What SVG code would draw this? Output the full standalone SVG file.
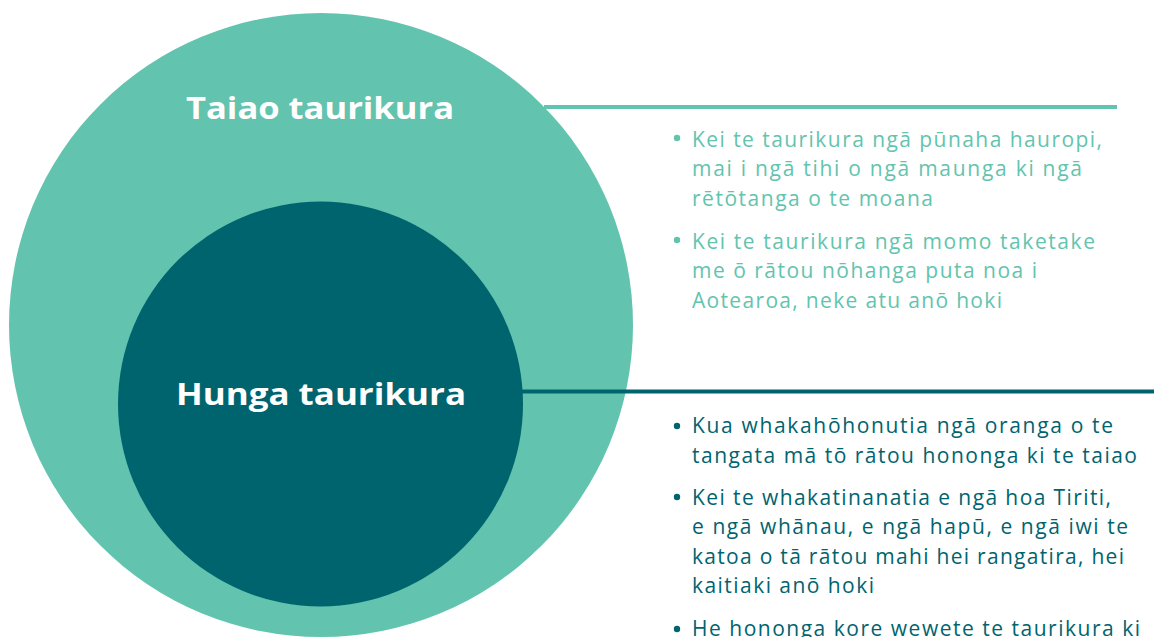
<svg xmlns="http://www.w3.org/2000/svg" width="1154" height="637" viewBox="0 0 1154 637">
  <style>
    .title { font-family: "Open Sans", "Liberation Sans", sans-serif; font-weight: 700; font-size: 31px; fill: #ffffff; text-anchor: middle; }
    .body { font-family: "Open Sans", "Liberation Sans", sans-serif; font-size: 21px; }
    .light { fill: #62C4AE; }
    .dark { fill: #00646F; }
    .lline { stroke: #62C4AE; stroke-width: 4; fill: none; }
    .dline { stroke: #00646F; stroke-width: 4; fill: none; }
  </style>
  <rect width="1154" height="637" fill="#ffffff"/>

  <g id="taiao-taurikura">
    <circle cx="321" cy="325" r="312" fill="#62C4AE"/>
    <text class="title" x="320" y="119" textLength="268" lengthAdjust="spacingAndGlyphs">Taiao taurikura</text>
  </g>

  <g id="hunga-taurikura">
    <circle cx="320.5" cy="404" r="202.5" fill="#00646F"/>
    <text class="title" x="321" y="405" textLength="290" lengthAdjust="spacingAndGlyphs">Hunga taurikura</text>
  </g>

  <g id="connectors">
    <line class="lline" x1="544" y1="107" x2="1117" y2="107"/>
    <line class="dline" x1="522" y1="391.5" x2="1154" y2="391.5"/>
  </g>

  <g id="taiao-notes" class="body light">
    <circle cx="677" cy="138" r="3.2"/>
    <text x="692" y="146.5" textLength="410" lengthAdjust="spacing">Kei te taurikura ngā pūnaha hauropi,</text>
    <text x="692" y="176" textLength="390" lengthAdjust="spacing">mai i ngā tihi o ngā maunga ki ngā</text>
    <text x="692" y="205.5" textLength="241" lengthAdjust="spacing">rētōtanga o te moana</text>
    <circle cx="677" cy="240" r="3.2"/>
    <text x="692" y="248.5" textLength="403" lengthAdjust="spacing">Kei te taurikura ngā momo taketake</text>
    <text x="692" y="278" textLength="345" lengthAdjust="spacing">me ō rātou nōhanga puta noa i</text>
    <text x="692" y="307.5" textLength="310" lengthAdjust="spacing">Aotearoa, neke atu anō hoki</text>
  </g>

  <g id="hunga-notes" class="body dark">
    <circle cx="677" cy="426" r="3.2"/>
    <text x="692" y="433" textLength="421" lengthAdjust="spacing">Kua whakahōhonutia ngā oranga o te</text>
    <text x="692" y="462.5" textLength="445" lengthAdjust="spacing">tangata mā tō rātou hononga ki te taiao</text>
    <circle cx="677" cy="497" r="3.2"/>
    <text x="692" y="504.5" textLength="419" lengthAdjust="spacing">Kei te whakatinanatia e ngā hoa Tiriti,</text>
    <text x="692" y="534" textLength="436" lengthAdjust="spacing">e ngā whānau, e ngā hapū, e ngā iwi te</text>
    <text x="692" y="563.5" textLength="432" lengthAdjust="spacing">katoa o tā rātou mahi hei rangatira, hei</text>
    <text x="692" y="593" textLength="182" lengthAdjust="spacing">kaitiaki anō hoki</text>
    <circle cx="677" cy="629" r="3.2"/>
    <text x="692" y="636" textLength="448" lengthAdjust="spacing">He hononga kore wewete te taurikura ki</text>
  </g>
</svg>
